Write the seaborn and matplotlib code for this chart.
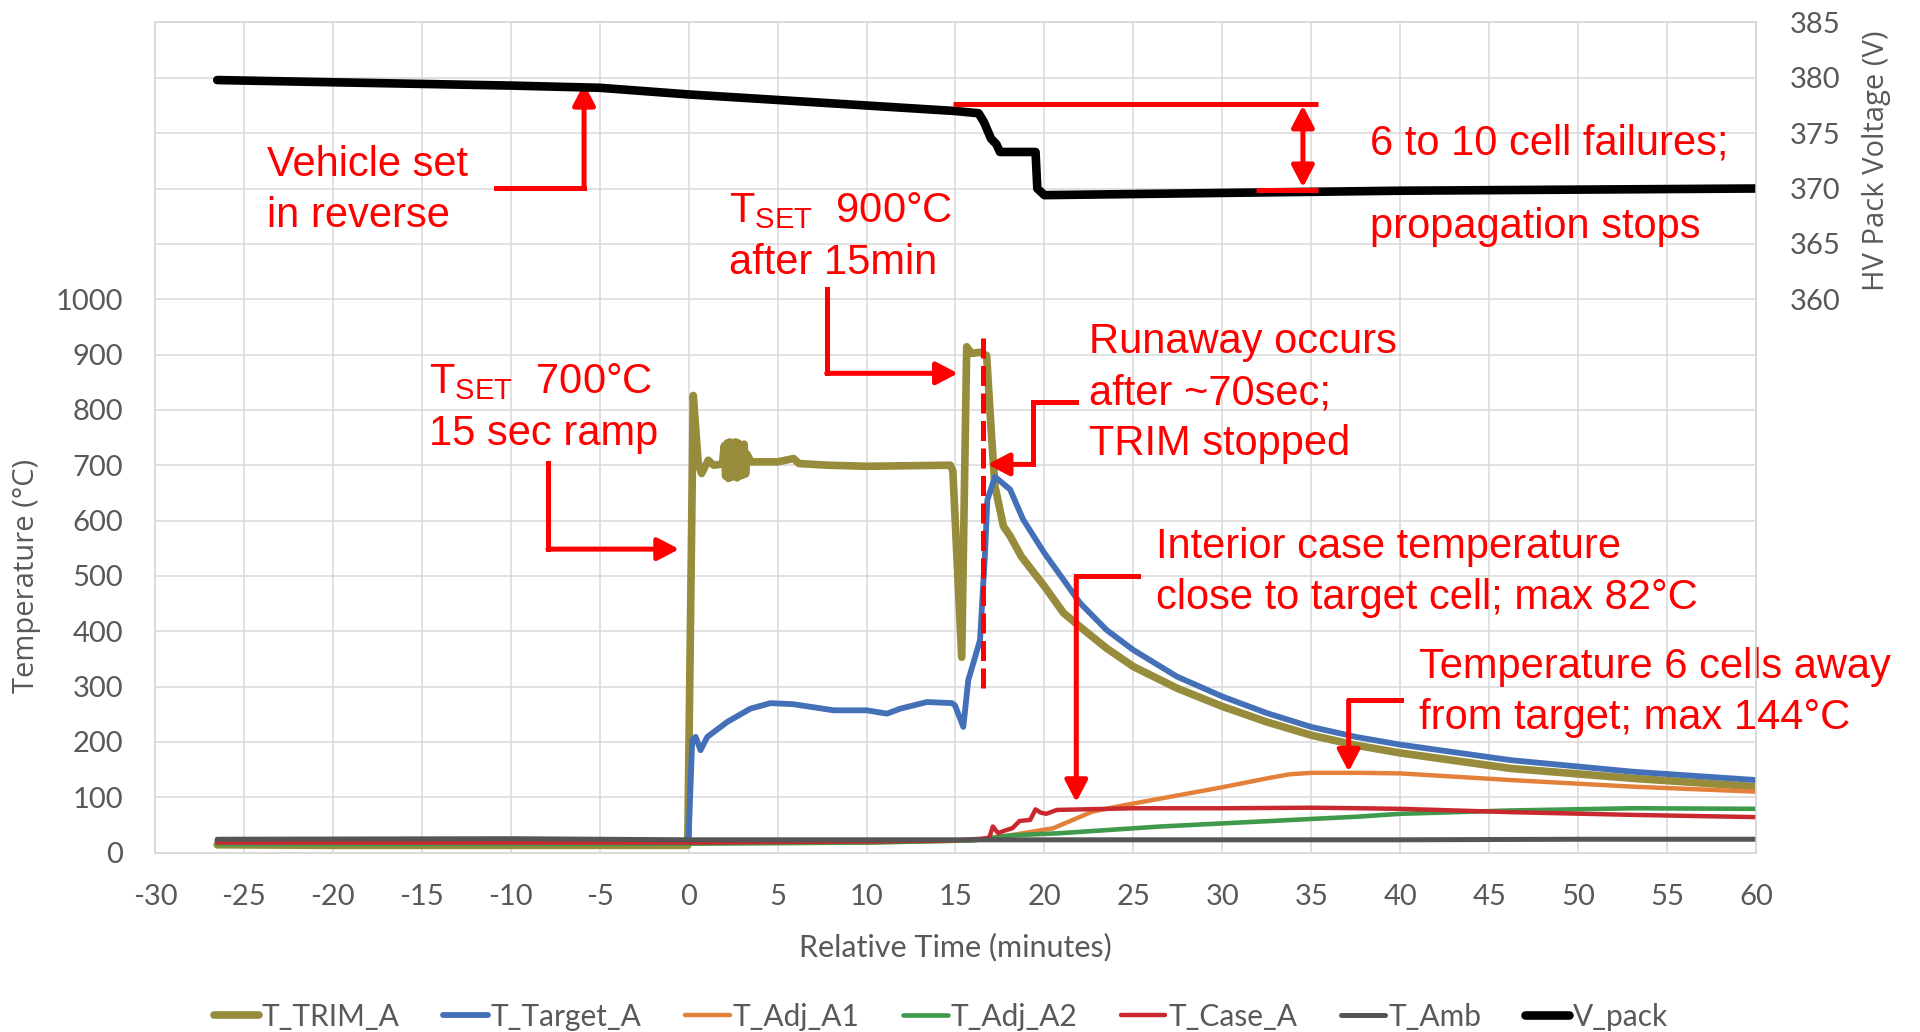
import matplotlib
matplotlib.use('Agg')
import matplotlib.pyplot as plt
import seaborn as sns

# ---- values ----
# relative time in minutes, temperature in degC, voltage in V
trim_t = [-26.5, -20, -10, -0.05, 0.26, 0.54, 0.73, 1.1, 1.4, 1.9,
          2.0, 2.08, 2.16, 2.24, 2.32, 2.4, 2.48, 2.56, 2.64, 2.72, 2.8, 2.88, 2.96, 3.04, 3.12, 3.2, 3.28,
          3.5, 5.0, 5.9, 6.2, 7.8, 10.0, 14.7, 14.85, 15.35, 15.63, 15.9, 16.38, 16.75, 17.03, 17.22,
          17.3, 17.69, 18.07, 18.7, 20.0, 21.07, 22.0, 23.5, 25.0, 27.45, 30.0, 32.5, 35.0, 37.5,
          40.0, 46.2, 53.1, 60]
trim_T = [14, 13, 13, 13, 826, 703, 685, 709, 700, 702,
          735, 680, 740, 676, 742, 678, 738, 680, 742, 677, 740, 680, 736, 682, 738, 684, 720,
          706, 706, 712, 703, 700, 698, 700, 690, 353, 914, 902, 904, 898, 751, 661,
          650, 590, 572, 535, 481, 433, 408, 369, 336, 297, 264, 236, 212, 194,
          180, 152, 134, 119]

target_t = [-26.5, -10, -0.05, 0.0, 0.2, 0.39, 0.67, 1.05, 2.17, 3.47, 4.6, 5.9, 8.15, 10.0, 11.15,
            11.9, 13.4, 14.8, 14.97, 15.44, 15.72, 16.0, 16.38, 16.66, 16.79, 17.22, 18.07, 18.8,
            20.0, 21.07, 22.0, 23.5, 25.0, 27.45, 30.0, 32.5, 35.0, 37.5, 40.0, 46.2, 53.1, 60]
target_T = [20, 20, 20, 28, 203, 209, 185, 209, 236, 260, 270, 268, 257, 257, 251,
            260, 272, 270, 266, 227, 312, 342, 384, 541, 637, 679, 656, 602,
            541, 493, 451, 402, 366, 318, 282, 252, 227, 209, 195, 167, 146, 131]

adj1_t = [-26.5, 0, 10, 16, 18.06, 20.5, 22.7, 24.4, 27.45, 30, 32.5, 33.8, 35, 37.7, 40, 46.2, 53.1, 60]
adj1_T = [17, 17, 18, 22, 31, 44, 74, 85, 103, 118, 134, 141.5, 144, 144, 143, 131, 119, 110]

adj2_t = [-26.5, 0, 10, 16, 18.1, 20.9, 26.5, 32.1, 37.7, 40, 46.2, 53.1, 60]
adj2_T = [15, 16, 18, 22, 31, 35, 47, 56, 65, 70, 76, 80, 79]

case_t = [-26.5, 0, 10, 15, 16.5, 16.9, 17.1, 17.4, 17.8, 18.2, 18.6, 19.2, 19.5, 19.8, 20.1, 20.7,
          25, 30, 35, 37.7, 40, 46.2, 53.1, 60]
case_T = [18, 18, 20, 22, 25, 27, 47, 35, 40, 44, 57, 59, 78, 72, 70, 77,
          80, 80, 81, 80, 79, 73, 68, 64]

amb_t = [-26.5, -10, 0, 10, 20, 30, 40, 50, 60]
amb_T = [24, 25, 23, 23, 23, 23, 23, 24, 24]

vpack_t = [-26.5, -20, -15, -10, -5, 0, 5, 10, 15, 16.3, 16.6, 17.0, 17.3, 17.5, 19.5, 19.6, 20.0,
           25, 30, 35, 40, 50, 60]
vpack_V = [379.8, 379.6, 379.45, 379.3, 379.1, 378.5, 378.0, 377.5, 377.0, 376.8, 376.0, 374.5, 374.0,
           373.3, 373.3, 370.0, 369.4, 369.5, 369.6, 369.7, 369.8, 369.9, 370.0]

x_ticks = list(range(-30, 61, 5))
temp_ticks = list(range(0, 1501, 100))
temp_labels = [str(v) if v <= 1000 else '' for v in temp_ticks]
volt_ticks = list(range(310, 386, 5))
volt_labels = [str(v) if v >= 360 else '' for v in volt_ticks]

RED = '#FF0000'
GRAY_TXT = '#595959'
GRID = '#d9d9d9'

sns.set_theme(style='whitegrid')
plt.rcParams['font.family'] = ['Lato', 'DejaVu Sans']
plt.rcParams['axes.unicode_minus'] = False
plt.rcParams['mathtext.fontset'] = 'custom'
plt.rcParams['mathtext.rm'] = 'Liberation Sans'

fig = plt.figure(figsize=(19.2, 10.32), dpi=100)
fig.patch.set_facecolor('white')
ax = fig.add_axes([0.0807, 0.1739, 0.8339, 0.8043])
ax2 = ax.twinx()

series = [
    ('T_TRIM_A', trim_t, trim_T, '#968c3c', 5.5),
    ('T_Target_A', target_t, target_T, '#4470b8', 4.2),
    ('T_Adj_A1', adj1_t, adj1_T, '#e3813a', 3.2),
    ('T_Adj_A2', adj2_t, adj2_T, '#3f9a4c', 3.3),
    ('T_Case_A', case_t, case_T, '#c8282e', 3.2),
    ('T_Amb', amb_t, amb_T, '#555555', 3.6),
]
for i, (name, t, v, col, lw) in enumerate(series):
    sns.lineplot(x=t, y=v, ax=ax, color=col, linewidth=lw, label=name,
                 estimator=None, sort=False, zorder=2 + i)
sns.lineplot(x=vpack_t, y=vpack_V, ax=ax2, color='black', linewidth=6.2, label='V_pack',
             estimator=None, sort=False)

for a in (ax, ax2):
    if a.get_legend() is not None:
        a.get_legend().remove()

ax.set_xlim(-30, 60)
ax.set_ylim(0, 1500)
ax2.set_ylim(310, 385)

ax.set_xticks(x_ticks)
ax.set_yticks(temp_ticks)
ax.set_yticklabels(temp_labels)
ax2.set_yticks(volt_ticks)
ax2.set_yticklabels(volt_labels)

ax.grid(True, color=GRID, linewidth=1.1)
ax2.grid(False)
for a in (ax, ax2):
    for s in a.spines.values():
        s.set_color(GRID)
        s.set_linewidth(1.1)

ax.tick_params(axis='x', length=0, pad=23, labelsize=21, labelcolor=GRAY_TXT)
ax.tick_params(axis='y', length=0, pad=23, labelsize=21, labelcolor=GRAY_TXT)
ax2.tick_params(axis='y', length=0, pad=24, labelsize=21, labelcolor=GRAY_TXT)

ax.set_xlabel('Relative Time (minutes)', fontsize=22, color=GRAY_TXT, labelpad=16)
ax.set_ylabel('Temperature (°C)', fontsize=21, color=GRAY_TXT, family=['Open Sans', 'DejaVu Sans'])
ax.yaxis.set_label_coords(-0.0712, 0.3335)
ax2.set_ylabel('HV Pack Voltage (V)', fontsize=21, color=GRAY_TXT, family=['Open Sans', 'DejaVu Sans'])
ax2.yaxis.set_label_coords(1.0662, 0.8334)


# ---- red annotations ----
def note(a, x, ys, lines):
    for y, line in zip(ys, lines):
        a.text(x, y, line, color=RED, fontsize=30, family=['Liberation Sans', 'DejaVu Sans'],
               va='baseline', ha='left', zorder=20)


def elbow(a, pts, style='-|>'):
    xs = [p[0] for p in pts[:-1]]
    ys = [p[1] for p in pts[:-1]]
    if len(xs) > 1:
        a.plot(xs, ys, color=RED, lw=3.6, solid_capstyle='projecting',
               solid_joinstyle='miter', zorder=20)
    a.annotate('', xy=pts[-1], xytext=pts[-2],
               arrowprops=dict(arrowstyle=style + ',head_length=0.65,head_width=0.34',
                               color=RED, lw=3.6, mutation_scale=20,
                               shrinkA=0, shrinkB=0), zorder=20)


note(ax, -23.7, [1222, 1130], ['Vehicle set', 'in reverse'])
elbow(ax, [(-10.83, 1201.6), (-5.88, 1201.6), (-5.88, 1389.5)])

note(ax, 2.27, [1140, 1046], [r'T$_{\mathregular{SET}}$  900°C', 'after 15min'])
elbow(ax, [(7.76, 1018.8), (7.76, 866), (15.14, 866)])

note(ax, -14.61, [830, 737], [r'T$_{\mathregular{SET}}$  700°C', '15 sec ramp'])
elbow(ax, [(-7.91, 703.7), (-7.91, 548.3), (-0.53, 548.3)])

note(ax, 22.48, [902, 809, 719], ['Runaway occurs', 'after ~70sec;', 'TRIM stopped'])
elbow(ax, [(21.77, 815), (19.38, 815), (19.38, 701.4), (16.8, 701.4)])
ax.plot([16.53, 16.53], [297, 935], color=RED, lw=3.6, dashes=(4, 1.5), zorder=20)

note(ax, 26.27, [533, 441], ['Interior case temperature', 'close to target cell; max 82°C'])
elbow(ax, [(25.24, 499), (21.79, 499), (21.79, 91)])

note(ax, 41.06, [315, 223], ['Temperature 6 cells away', 'from target; max 144°C'])
elbow(ax, [(40.04, 275), (37.1, 275), (37.1, 146)])

note(ax, 38.3, [1262, 1110], ['6 to 10 cell failures;', 'propagation stops'])
ax2.plot([14.84, 35.38], [377.68, 377.68], color=RED, lw=3.6, solid_capstyle='butt', zorder=20)
ax2.plot([31.88, 35.38], [369.87, 369.87], color=RED, lw=3.6, solid_capstyle='butt', zorder=20)
elbow(ax2, [(34.53, 370.1), (34.53, 377.5)], style='<|-|>')

# ---- legend along the bottom edge ----
h1, l1 = ax.get_legend_handles_labels()
h2, l2 = ax2.get_legend_handles_labels()
fig.legend(h1 + h2, l1 + l2, loc='center', bbox_to_anchor=(0.49, 0.015), ncol=7,
           frameon=False, fontsize=21.5, handlelength=1.5, handletextpad=0.1,
           columnspacing=1.45, labelcolor=GRAY_TXT)

fig.savefig('out.png', dpi=100)
